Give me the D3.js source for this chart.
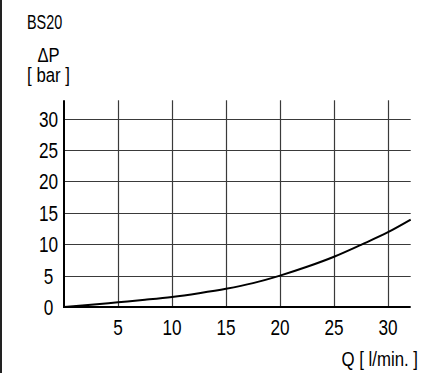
<!DOCTYPE html>
<html>
<head>
<meta charset="utf-8">
<script src="https://cdn.jsdelivr.net/npm/d3@7"></script>
<style>
  body { margin: 0; background: #fff; }
  text { font-family: "Liberation Sans Narrow", "Arial Narrow", "Liberation Sans", sans-serif; fill: #000; }
</style>
</head>
<body>
<div id="chart"></div>
<script>
// flow vs pressure drop
var flow = [0, 2.5, 5, 7.5, 10, 12.5, 15, 17.5, 20, 22.5, 25, 27.5, 30, 32.1];
var dp   = [0, 0.35, 0.75, 1.15, 1.6, 2.2, 2.9, 3.8, 5.0, 6.4, 8.0, 9.9, 11.9, 13.9];
var xTicks = [5, 10, 15, 20, 25, 30];
var yTicks = [0, 5, 10, 15, 20, 25, 30];

var W = 438, H = 373;
var squeeze = 0.8; // font here is wider than the condensed one in the picture

var svg = d3.select("#chart")
    .append("svg")
    .attr("width", W)
    .attr("height", H);

var x = d3.scaleLinear()
    .domain([0, 32.1])
    .range([64, 410.7]);

var y = d3.scaleLinear()
    .domain([0, 30])
    .range([307, 118.5]);

function label(px, py, txt, size, anchor, sx) {
    return svg.append("text")
        .attr("transform", "translate(" + px + "," + py + ") scale(" + (sx || squeeze) + ",1)")
        .attr("text-anchor", anchor || "start")
        .style("font-size", size + "px")
        .text(txt);
}

// frame line on the left
svg.append("line")
    .attr("x1", 1).attr("x2", 1)
    .attr("y1", 0).attr("y2", H)
    .attr("stroke", "#222").attr("stroke-width", 2);

// grid
svg.append("g").selectAll("line")
    .data(yTicks.filter(function(d){ return d > 0; }))
    .enter().append("line")
    .attr("x1", x(0)).attr("x2", x(32.1))
    .attr("y1", function(d){ return Math.round(y(d)) + 0.5; })
    .attr("y2", function(d){ return Math.round(y(d)) + 0.5; })
    .attr("stroke", "#3a3a3a").attr("stroke-width", 1.2);

svg.append("g").selectAll("line")
    .data(xTicks)
    .enter().append("line")
    .attr("x1", function(d){ return Math.round(x(d)) + 0.5; })
    .attr("x2", function(d){ return Math.round(x(d)) + 0.5; })
    .attr("y1", y(32.9)).attr("y2", y(0))
    .attr("stroke", "#3a3a3a").attr("stroke-width", 1.2);

// axes
svg.append("line")
    .attr("x1", x(0)).attr("x2", x(0))
    .attr("y1", y(32.9)).attr("y2", y(0) + 1)
    .attr("stroke", "#000").attr("stroke-width", 2);
svg.append("line")
    .attr("x1", x(0) - 1).attr("x2", x(32.1))
    .attr("y1", y(0)).attr("y2", y(0))
    .attr("stroke", "#000").attr("stroke-width", 2);

// curve
var line = d3.line()
    .x(function(d, i){ return x(flow[i]); })
    .y(function(d){ return y(d); })
    .curve(d3.curveMonotoneX);

svg.append("path")
    .datum(dp)
    .attr("d", line)
    .attr("fill", "none")
    .attr("stroke", "#000")
    .attr("stroke-width", 2);

// tick labels
yTicks.forEach(function(d){
    label(48.5, y(d) + 8, d, 21.5, "middle");
});
xTicks.forEach(function(d){
    label(x(d), 335, d, 21.5, "middle");
});

// titles
label(27, 29, "BS20", 19.5, "start", 0.74);
label(48.5, 62, "ΔP", 19.5, "middle", 0.85);
label(48.5, 82, "[ bar ]", 19.5, "middle", 0.86);
label(418, 366, "Q [ l/min. ]", 21, "end", 0.8);
</script>
</body>
</html>
